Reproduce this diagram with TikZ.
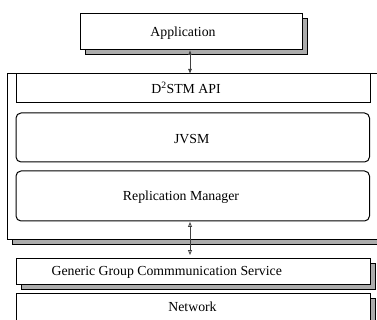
\documentclass[tikz,border=0pt]{standalone}
\usepackage{fontspec}
\setmainfont{Liberation Serif}
\usetikzlibrary{shadows,arrows.meta}
\begin{document}
\begin{tikzpicture}[x=1pt,y=-1pt,
  box/.style={draw=black, line width=1pt, fill=white, inner sep=0pt, outer sep=0pt},
  shbox/.style={box, general shadow={fill=gray!65, draw=black, line width=1pt, shadow xshift=5pt, shadow yshift=-5pt}},
  rbox/.style={box, rounded corners=5pt},
  lbl/.style={font=\fontsize{13.8}{16}\selectfont, anchor=base, inner sep=0pt},
  conn/.style={line width=0.8pt, draw=black!75}]
\useasboundingbox (0,0) rectangle (377,320);
% outer container
\node[shbox, minimum width=380pt, minimum height=165.5pt] (outer) at (197.3,156.75) {};
% application
\node[shbox, minimum width=222pt, minimum height=36pt] (app) at (191,31.5) {};
% layers inside
\node[box, minimum width=354pt, minimum height=29pt] (api) at (193,88.5) {};
\node[rbox, minimum width=353.5pt, minimum height=49pt] (jvsm) at (192.75,137.5) {};
\node[rbox, minimum width=353.5pt, minimum height=50pt] (rm) at (192.75,196) {};
% lower layers
\node[shbox, minimum width=354pt, minimum height=26pt] (ggcs) at (193,271) {};
\node[shbox, minimum width=354pt, minimum height=37pt] (net) at (193,311.5) {};
% labels
\node[lbl] (tapp) at (183,36.7) {Application};
\node[lbl] (tapi) at (186,93.3) {D\textsuperscript{2}STM API};
\node[lbl] (tjvsm) at (191.7,143.3) {JVSM};
\node[lbl] (trm) at (181,201) {Replication Manager};
\node[lbl] (tggcs) at (166.7,275.7) {Generic Group Commmunication Service};
\node[lbl] (tnet) at (192.5,311.7) {Network};
% connectors
\draw[conn, {Latex[length=5pt,width=4pt]}-{Latex[length=5pt,width=4pt]}] (190,50) coordinate (a1) -- (a1 |- outer.north);
\draw[conn, {Triangle[open,length=5pt,width=4pt,fill=white]}-{Triangle[open,length=5pt,width=4pt,fill=white]}, shorten >=3pt, shorten <=1pt] (190,221) coordinate (a2) -- (a2 |- ggcs.north);
\end{tikzpicture}
\end{document}
